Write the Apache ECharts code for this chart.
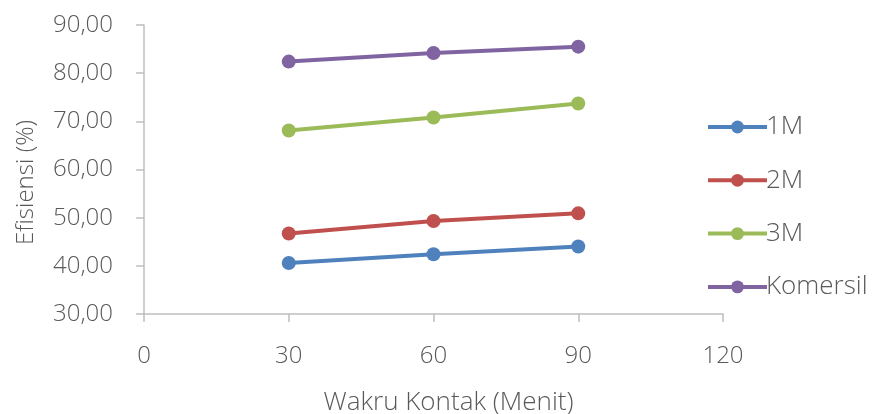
<!DOCTYPE html>
<html>
<head>
<meta charset="utf-8">
<script src="https://cdn.jsdelivr.net/npm/echarts@6/dist/echarts.min.js"></script>
<style>
  html, body { margin: 0; padding: 0; background: #fff; }
  #chart { width: 873px; height: 414px; }
</style>
</head>
<body>
<div id="chart"></div>
<script>
// waktu kontak (menit)
var waktu = [30, 60, 90];
var seriesNames = ["1M", "2M", "3M", "Komersil"];
var efisiensi1M = [40.6, 42.4, 44.0];
var efisiensi2M = [46.7, 49.3, 50.9];
var efisiensi3M = [68.1, 70.8, 73.7];
var efisiensiKomersil = [82.4, 84.2, 85.5];
var colors = ["#4F81BD", "#C0504D", "#9BBB59", "#8064A2"];

var allData = [efisiensi1M, efisiensi2M, efisiensi3M, efisiensiKomersil];
var font = "'Open Sans', 'Noto Sans', sans-serif";
var textColor = "#595959";
var axisColor = "#BFBFBF";

var chart = echarts.init(document.getElementById("chart"));

var series = seriesNames.map(function (name, i) {
  return {
    name: name,
    type: "line",
    data: waktu.map(function (x, j) { return [x, allData[i][j]]; }),
    symbol: "circle",
    symbolSize: 14,
    lineStyle: { width: 4, color: colors[i] },
    itemStyle: { color: colors[i] }
  };
});

chart.setOption({
  animation: false,
  color: colors,
  grid: { left: 144, right: 150, top: 25, bottom: 100, outerBoundsMode: "none" },
  legend: {
    orient: "vertical",
    left: 701,
    top: 109,
    itemWidth: 59,
    itemHeight: 16,
    itemGap: 27.3,
    lineStyle: { width: 4 },
    textStyle: { fontFamily: font, fontWeight: 300, fontSize: 26, color: textColor, padding: [0, 0, 0, -6] },
    data: seriesNames
  },
  xAxis: {
    type: "value",
    min: 0,
    max: 120,
    interval: 30,
    name: "Wakru Kontak (Menit)",
    nameLocation: "middle",
    nameGap: 76,
    nameTextStyle: { fontFamily: font, fontWeight: 300, fontSize: 26, color: textColor, padding: [0, 0, 0, 30] },
    axisLine: { lineStyle: { color: axisColor, width: 1.5 } },
    axisTick: { show: true, length: 8, lineStyle: { color: axisColor, width: 1.5 } },
    axisLabel: { fontFamily: font, fontWeight: 300, fontSize: 24, color: textColor, margin: 30 },
    splitLine: { show: false }
  },
  yAxis: {
    type: "value",
    min: 30,
    max: 90,
    interval: 10,
    name: "Efisiensi (%)",
    nameLocation: "middle",
    nameGap: 106,
    nameRotate: 90,
    nameTextStyle: { fontFamily: font, fontWeight: 300, fontSize: 24, color: textColor, padding: [0, 26, 0, 0] },
    axisLine: { show: true, onZero: false, lineStyle: { color: axisColor, width: 1.5 } },
    axisTick: { show: true, length: 8, lineStyle: { color: axisColor, width: 1.5 } },
    axisLabel: {
      fontFamily: font, fontWeight: 300, fontSize: 24, color: textColor, margin: 31,
      formatter: function (v) { return v.toFixed(2).replace(".", ","); }
    },
    splitLine: { show: false }
  },
  series: series
});
</script>
</body>
</html>
